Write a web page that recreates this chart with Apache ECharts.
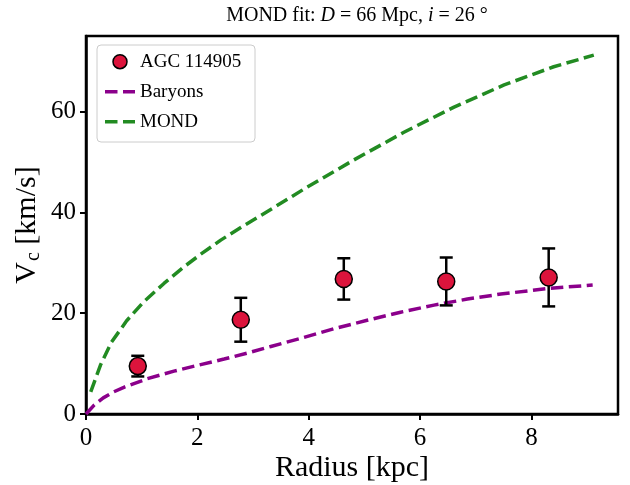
<!DOCTYPE html>
<html>
<head>
<meta charset="utf-8">
<script src="https://cdn.jsdelivr.net/npm/echarts@6/dist/echarts.min.js"></script>
<style>
html,body{margin:0;padding:0;background:#fff;}
#c{width:630px;height:485px;}
</style>
</head>
<body>
<div id="c"></div>
<script>
// Observed data (AGC 114905)
const obsR = [0.93, 2.78, 4.63, 6.47, 8.31];
const obsV = [9.5, 18.7, 26.8, 26.3, 27.1];
const obsErr = [2.05, 4.35, 4.1, 4.75, 5.75];

// Baryons curve
const barR = [0.0, 0.15, 0.31, 0.5, 0.7, 1.1, 1.58, 2.06, 2.48, 2.90, 3.32, 3.85, 4.45, 5.05, 5.65, 6.25, 6.85, 7.45, 8.3, 9.1];
const barV = [0.0, 1.8, 3.2, 4.4, 5.4, 7.0, 8.5, 9.8, 10.9, 12.1, 13.4, 15.0, 16.9, 18.6, 20.2, 21.6, 22.8, 23.8, 24.9, 25.6];

// MOND curve
const mondR = [0.085, 0.26, 0.455, 0.73, 1.04, 1.40, 1.76, 2.06, 2.42, 2.78, 3.14, 3.41, 3.91, 4.81, 5.71, 6.61, 7.51, 8.40, 9.12];
const mondV = [4.4, 9.7, 14.2, 18.5, 22.3, 25.9, 29.2, 31.7, 34.5, 37.0, 39.4, 41.2, 44.6, 50.4, 55.9, 60.9, 65.3, 68.9, 71.2];

// Axis ticks
const xTicks = [0, 2, 4, 6, 8];
const yTicks = [0, 20, 40, 60];

// Legend entries
const legendNames = ['AGC 114905', 'Baryons', 'MOND'];

const FONT = 'Liberation Serif';
const C_OBS = '#DC143C', C_BAR = '#8B008B', C_MOND = '#228B22';

const chart = echarts.init(document.getElementById('c'), null, {renderer: 'canvas'});

const errData = obsR.map((r, i) => [r, obsV[i] - obsErr[i], obsV[i] + obsErr[i]]);

// legend drawn as graphic elements (box, icons, text)
const LX = 97, LY = 45, LW = 158, LH = 97;
const rowY = [61.7, 91.7, 121.7];
const legendGraphic = [
  {type: 'rect', shape: {x: LX, y: LY, width: LW, height: LH, r: 4},
   style: {fill: '#fff', stroke: '#cccccc', lineWidth: 1}, z: 100},
  {type: 'circle', shape: {cx: 120, cy: rowY[0], r: 7},
   style: {fill: C_OBS, stroke: '#000', lineWidth: 1.5}, z: 101},
  {type: 'line', shape: {x1: 105, y1: rowY[1], x2: 135, y2: rowY[1]},
   style: {stroke: C_BAR, lineWidth: 3.5, lineDash: [12.5, 5.5]}, z: 101},
  {type: 'line', shape: {x1: 105, y1: rowY[2], x2: 135, y2: rowY[2]},
   style: {stroke: C_MOND, lineWidth: 3.5, lineDash: [12.5, 5.5]}, z: 101}
].concat(legendNames.map((n, i) => ({
  type: 'text', x: 140, y: rowY[i], z: 101,
  style: {text: n, fontFamily: FONT, fontSize: 19, fill: '#000', verticalAlign: 'middle', align: 'left'}
})));

const option = {
  animation: false,
  backgroundColor: '#fff',
  title: {
    text: '{n|MOND fit: }{i|D}{n| = 66 Mpc, }{i|i}{n| = 26 °}',
    left: 352,
    textAlign: 'center',
    top: 1,
    textStyle: {
      fontWeight: 'normal',
      rich: {
        n: {fontFamily: FONT, fontSize: 20, fontWeight: 'normal', color: '#000'},
        i: {fontFamily: FONT, fontSize: 20, fontWeight: 'normal', fontStyle: 'italic', color: '#000'}
      }
    }
  },
  grid: {
    left: 86, right: 12, top: 36, bottom: 71,
    containLabel: false, outerBoundsMode: 'none',
    show: true, borderColor: '#000', borderWidth: 2.5, backgroundColor: 'transparent'
  },
  graphic: legendGraphic,
  xAxis: {
    type: 'value', min: 0, max: 9.555,
    name: 'Radius [kpc]', nameLocation: 'middle', nameGap: 39, nameMoveOverlap: false,
    nameTextStyle: {fontFamily: FONT, fontSize: 30, color: '#000'},
    axisLine: {show: true, onZero: false, lineStyle: {color: '#000', width: 2.5}},
    axisTick: {show: true, inside: false, length: 6, lineStyle: {color: '#000', width: 2}, customValues: xTicks},
    axisLabel: {fontFamily: FONT, fontSize: 25, color: '#000', margin: 12, customValues: xTicks},
    splitLine: {show: false}
  },
  yAxis: {
    type: 'value', min: 0, max: 75,
    name: 'V{sub|c} [km/s]', nameLocation: 'middle', nameGap: 42, nameRotate: 90, nameMoveOverlap: false,
    nameTextStyle: {fontFamily: FONT, fontSize: 30, color: '#000',
      rich: {sub: {fontFamily: FONT, fontSize: 20, color: '#000', padding: [14, 0, 0, 1]}}},
    axisLine: {show: true, onZero: false, lineStyle: {color: '#000', width: 2.5}},
    axisTick: {show: true, inside: false, length: 6, lineStyle: {color: '#000', width: 2}, customValues: yTicks},
    axisLabel: {fontFamily: FONT, fontSize: 25, color: '#000', margin: 10, customValues: yTicks},
    splitLine: {show: false}
  },
  series: [
    {
      name: 'Baryons', type: 'line', z: 2,
      data: barR.map((r, i) => [r, barV[i]]),
      showSymbol: false, symbol: 'none', smooth: false,
      itemStyle: {color: C_BAR},
      lineStyle: {color: C_BAR, width: 3.5, type: [12.5, 5.5]}
    },
    {
      name: 'MOND', type: 'line', z: 2,
      data: mondR.map((r, i) => [r, mondV[i]]),
      showSymbol: false, symbol: 'none', smooth: false,
      itemStyle: {color: C_MOND},
      lineStyle: {color: C_MOND, width: 3.5, type: [12.5, 5.5]}
    },
    {
      name: 'err', type: 'custom', z: 3,
      data: errData,
      encode: {x: 0, y: [1, 2]},
      renderItem: function (params, api) {
        const x = api.value(0);
        const lo = api.coord([x, api.value(1)]);
        const hi = api.coord([x, api.value(2)]);
        const cap = 6.5;
        const st = {stroke: '#000', lineWidth: 2.5};
        return {
          type: 'group',
          children: [
            {type: 'line', shape: {x1: lo[0], y1: lo[1], x2: hi[0], y2: hi[1]}, style: st},
            {type: 'line', shape: {x1: lo[0] - cap, y1: lo[1], x2: lo[0] + cap, y2: lo[1]}, style: st},
            {type: 'line', shape: {x1: hi[0] - cap, y1: hi[1], x2: hi[0] + cap, y2: hi[1]}, style: st}
          ]
        };
      }
    },
    {
      name: 'AGC 114905', type: 'scatter', z: 4,
      data: obsR.map((r, i) => [r, obsV[i]]),
      symbol: 'circle', symbolSize: 17,
      itemStyle: {color: C_OBS, borderColor: '#000', borderWidth: 1.5, opacity: 1}
    }
  ]
};
chart.setOption(option);
</script>
</body>
</html>
